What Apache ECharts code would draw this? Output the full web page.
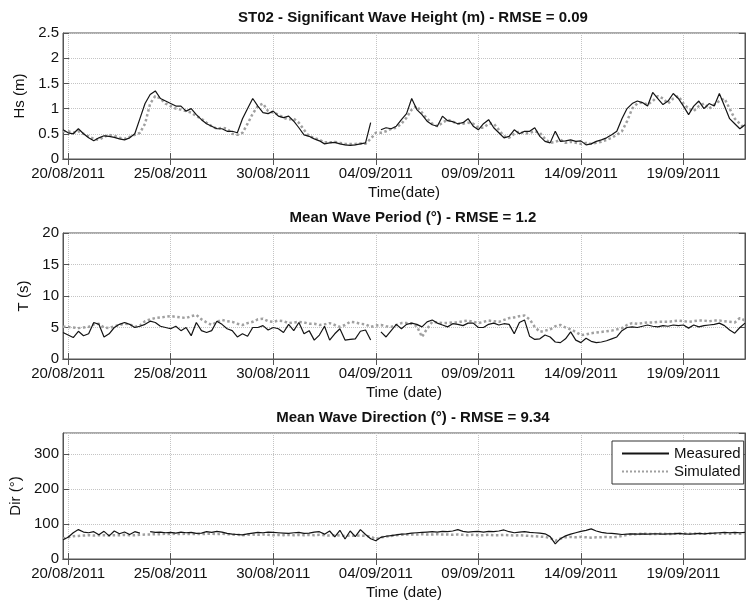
<!DOCTYPE html>
<html><head><meta charset="utf-8">
<script src="https://cdn.jsdelivr.net/npm/echarts@6/dist/echarts.min.js"></script>
<style>html,body{margin:0;padding:0;background:#fff}#c{width:746px;height:603px}</style>
</head><body><div id="c"></div>
<script>
// ---- data (6-hourly samples starting 19/08/2011 18:00 UTC) ----
const startTime = Date.UTC(2011, 7, 19, 18);
const stepHours = 6;
const tickDates = ['20/08/2011','25/08/2011','30/08/2011','04/09/2011','09/09/2011','14/09/2011','19/09/2011'];
const seriesNames = ['Measured', 'Simulated'];
const titles = [
  'ST02 - Significant Wave Height (m) - RMSE = 0.09',
  'Mean Wave Period (\u00b0) - RMSE = 1.2',
  'Mean Wave Direction (\u00b0) - RMSE = 9.34'
];
const yNames = ['Hs (m)', 'T (s)', 'Dir (\u00b0)'];
const xNames = ['Time(date)', 'Time (date)', 'Time (date)'];

const hsMeasured = [
0.58,0.52,0.5,0.6,0.5,0.42,0.36,0.42,0.46,0.45,
0.43,0.4,0.38,0.42,0.5,0.8,1.1,1.28,1.35,1.2,
1.15,1.1,1.05,1.05,0.95,1.0,0.88,0.78,0.7,0.65,
0.6,0.6,0.55,0.55,0.52,0.8,1.0,1.2,1.05,0.92,
0.9,0.95,0.85,0.82,0.85,0.75,0.62,0.48,0.45,0.4,
0.36,0.3,0.32,0.33,0.3,0.28,0.27,0.28,0.3,0.32,
0.72,null,0.58,0.62,0.6,0.65,0.78,0.9,1.2,0.98,
0.88,0.75,0.68,0.65,0.85,0.76,0.74,0.7,0.72,0.8,
0.65,0.58,0.7,0.78,0.62,0.52,0.42,0.45,0.58,0.5,
0.55,0.55,0.62,0.45,0.35,0.32,0.55,0.35,0.36,0.38,
0.35,0.36,0.28,0.3,0.35,0.38,0.42,0.48,0.55,0.8,
1.0,1.1,1.15,1.12,1.05,1.32,1.2,1.08,1.15,1.3,
1.2,1.05,0.88,1.05,1.15,1.0,1.1,1.05,1.3,1.05,
0.8,0.7,0.6,0.68];
const hsSimulated = [
0.55,0.55,0.52,0.55,0.5,0.45,0.4,0.38,0.44,0.48,
0.46,0.42,0.4,0.44,0.48,0.52,0.7,1.1,1.25,1.2,
1.1,1.05,1.0,0.98,0.95,0.92,0.85,0.8,0.72,0.65,
0.6,0.62,0.6,0.5,0.48,0.52,0.7,0.9,1.05,1.1,
0.95,0.92,0.88,0.82,0.78,0.8,0.72,0.58,0.45,0.42,
0.38,0.33,0.33,0.34,0.32,0.3,0.3,0.3,0.31,0.3,
0.4,0.52,0.52,0.55,0.6,0.62,0.7,0.82,0.98,1.05,
0.92,0.8,0.7,0.65,0.72,0.78,0.74,0.7,0.7,0.72,
0.7,0.62,0.62,0.7,0.7,0.58,0.45,0.42,0.5,0.55,
0.5,0.52,0.55,0.52,0.4,0.32,0.34,0.38,0.32,0.34,
0.32,0.3,0.32,0.3,0.32,0.34,0.38,0.42,0.48,0.55,
0.75,1.0,1.1,1.12,1.08,1.15,1.25,1.2,1.1,1.2,
1.25,1.1,1.0,0.95,1.05,1.1,1.0,1.08,1.15,1.2,
1.0,0.8,0.7,0.6];
const tMeasured = [
4.2,3.8,3.4,4.4,3.7,4.0,5.8,5.5,3.5,4.0,
5.0,5.5,5.8,5.5,5.0,5.2,5.5,6.0,5.8,5.2,
5.0,4.8,5.2,4.5,5.0,3.7,5.8,4.5,4.2,4.5,
6.0,5.5,4.8,4.5,3.5,4.0,3.6,5.0,5.0,5.3,
4.6,5.0,4.8,4.2,5.5,4.5,5.8,4.0,4.5,3.0,
3.8,5.2,3.0,4.0,4.8,3.0,3.1,3.2,4.4,4.6,
3.0,null,4.3,3.5,4.5,5.5,4.8,5.5,5.7,5.5,
5.1,5.9,6.2,5.7,5.4,5.1,5.6,5.5,5.3,5.7,
5.7,5.0,5.0,5.5,5.7,5.4,5.6,5.5,4.0,5.8,
6.2,3.6,3.1,3.2,3.8,3.5,2.7,2.6,3.2,4.3,
3.0,2.6,3.3,2.8,2.6,2.7,2.9,3.2,3.5,4.5,
5.0,5.1,5.0,5.2,5.4,5.2,5.1,5.3,5.2,5.4,
5.3,5.4,4.9,5.4,5.1,5.3,5.4,5.5,5.7,5.3,
4.6,4.1,5.0,5.7];
const tSimulated = [
5.1,5.1,5.0,4.9,5.0,5.1,5.5,5.6,5.0,4.9,
5.2,5.4,5.6,5.5,5.1,5.3,6.0,6.3,6.5,6.6,
6.7,6.8,6.7,6.6,6.5,6.8,7.0,6.3,5.8,5.4,
5.9,6.2,6.0,5.9,5.6,5.4,5.7,5.9,6.3,6.4,
6.0,5.9,6.1,6.0,5.7,5.8,5.9,5.8,5.6,5.6,
5.4,5.5,5.7,5.4,5.1,5.4,5.9,5.8,5.6,5.5,
5.1,5.3,5.4,5.2,5.1,5.4,5.7,5.7,5.6,5.2,
3.5,4.8,5.9,5.8,5.7,5.7,5.8,5.8,6.0,6.1,
5.9,5.7,5.9,6.1,6.0,5.9,6.2,6.5,6.6,6.8,
6.9,6.3,5.1,4.3,4.5,4.7,5.2,5.4,5.0,4.7,
4.3,3.8,3.9,4.1,4.2,4.3,4.4,4.5,4.7,4.9,
5.4,5.7,5.6,5.7,5.8,5.8,5.9,5.9,5.9,6.0,
6.1,6.0,5.9,6.0,6.1,6.1,6.0,6.1,6.1,6.0,
5.9,5.8,6.5,6.1];
const dirMeasured = [
55,62,75,84,77,75,78,69,79,66,
80,72,77,70,78,74,null,78,76,77,
75,76,74,77,75,76,73,74,78,76,
79,77,73,71,70,69,72,74,76,75,
77,76,75,74,73,75,76,73,74,77,
78,71,80,63,82,57,80,64,84,70,
58,52,62,65,67,69,71,72,74,75,
76,77,78,77,79,78,80,84,79,77,
78,79,77,79,78,80,83,78,75,77,
78,76,75,74,72,64,43,58,66,71,
75,79,82,86,80,76,74,73,72,70,
71,72,71,72,71,72,72,71,72,72,
73,72,71,72,73,72,73,74,75,76,
75,76,75,76];
const dirSimulated = [
58,62,65,66,67,68,67,68,68,67,
68,68,69,68,68,69,70,70,71,71,
72,71,72,71,72,71,72,71,72,72,
71,72,71,70,69,68,69,70,69,70,
69,68,69,68,69,68,69,68,69,68,
69,68,67,68,67,66,67,66,67,66,
64,57,62,64,66,68,69,70,70,70,
71,70,70,71,70,70,69,70,69,68,
69,68,68,69,68,68,69,68,67,68,
67,66,65,64,63,60,52,58,62,63,
62,63,62,61,62,62,63,62,63,66,
69,71,71,72,72,71,72,72,71,72,
72,73,72,72,73,72,73,73,72,73,
72,73,72,73];

// ---- build ----
const FONT = 'Liberation Sans, Arial, sans-serif';
const stepMs = stepHours * 3600 * 1000;
const toPairs = arr => arr.map((v, i) => [startTime + i * stepMs, v]);
const tickValues = tickDates.map(s => { const p = s.split('/'); return Date.UTC(+p[2], +p[1] - 1, +p[0]); });
const xMin = startTime;
const xMax = startTime + (hsMeasured.length - 1) * stepMs;
const yRanges = [{min:0,max:2.5,interval:0.5},{min:0,max:20,interval:5},{min:0,max:360,interval:100}];
const gridTops = [33, 233, 433];
const GH = 126, GL = 63, GW = 682;
const AX = '#555';
const SIM = '#a0a0a0';
const dotted = {show:true, lineStyle:{type:'dotted', color:'#c4c4c4', width:1}};

const grids = [], xAxes = [], yAxes = [], series = [], titleList = [];
const seriesData = [[hsMeasured, hsSimulated],[tMeasured, tSimulated],[dirMeasured, dirSimulated]];
for (let g = 0; g < 3; g++) {
  grids.push({left: GL, top: gridTops[g], width: GW, height: GH, show: true, borderColor: AX, borderWidth: 1, backgroundColor: '#fff'});
  titleList.push({text: titles[g], left: GL + GW / 2 + 4, top: gridTops[g] - 28, textAlign: 'center',
    textStyle: {fontSize: 15, fontWeight: 'bold', color: '#111', fontFamily: FONT}});
  xAxes.push({type:'value', gridIndex:g, min:xMin, max:xMax, position:'bottom',
    axisLine:{show:true, lineStyle:{color:AX}},
    axisTick:{show:true, inside:true, length:6, customValues: tickValues, lineStyle:{color:AX}},
    axisLabel:{customValues: tickValues, fontSize:15, color:'#111', margin:7, fontFamily:FONT,
      formatter: v => { const k = tickValues.indexOf(v); return k >= 0 ? tickDates[k] : ''; }},
    splitLine: dotted,
    name: xNames[g], nameLocation:'middle', nameGap:26,
    nameTextStyle:{fontSize:15, color:'#111', fontFamily:FONT}});
  xAxes.push({type:'value', gridIndex:g, min:xMin, max:xMax, position:'top',
    axisLine:{show:true, lineStyle:{color:AX}},
    axisTick:{show:true, inside:true, length:6, customValues: tickValues, lineStyle:{color:AX}},
    axisLabel:{show:false}, splitLine:{show:false}});
  const yr = yRanges[g];
  yAxes.push({type:'value', gridIndex:g, min:yr.min, max:yr.max, interval:yr.interval, position:'left',
    axisLine:{show:true, lineStyle:{color:AX}},
    axisTick:{show:true, inside:true, length:6, lineStyle:{color:AX}},
    axisLabel:{fontSize:15, color:'#111', margin:4, fontFamily:FONT, showMaxLabel: g === 2 ? false : true},
    splitLine: dotted,
    name: yNames[g], nameLocation:'middle', nameGap:28, nameRotate:90,
    nameTextStyle:{fontSize:15, color:'#111', fontFamily:FONT}});
  yAxes.push({type:'value', gridIndex:g, min:yr.min, max:yr.max, interval:yr.interval, position:'right',
    axisLine:{show:true, lineStyle:{color:AX}},
    axisTick:{show:true, inside:true, length:6, lineStyle:{color:AX}},
    axisLabel:{show:false}, splitLine:{show:false}});
  series.push({name: seriesNames[1], type:'line', xAxisIndex: 2*g, yAxisIndex: 2*g,
    data: toPairs(seriesData[g][1]), symbol:'none', showSymbol:false, connectNulls:false, z:2,
    lineStyle:{color:SIM, width:2.5, type:'dotted'}, itemStyle:{color:SIM}});
  series.push({name: seriesNames[0], type:'line', xAxisIndex: 2*g, yAxisIndex: 2*g,
    data: toPairs(seriesData[g][0]), symbol:'none', showSymbol:false, connectNulls:false, z:3,
    lineStyle:{color:'#141414', width:1.2}, itemStyle:{color:'#141414'}});
}

const chart = echarts.init(document.getElementById('c'), null, {renderer:'canvas'});
chart.setOption({
  animation: false,
  backgroundColor: '#fff',
  title: titleList,
  grid: grids,
  xAxis: xAxes,
  yAxis: yAxes,
  legend: {data: seriesNames, orient:'vertical', left: 612, top: 441, itemWidth: 47, itemHeight: 14, itemGap: 1,
    padding: [4, 3, 4, 9], borderColor:'#333', borderWidth: 1, backgroundColor:'#fff', selectedMode:false,
    itemStyle:{opacity:0},
    textStyle:{fontSize:15, color:'#111', fontFamily:FONT, lineHeight:17}},
  series: series
});
</script>
</body></html>
